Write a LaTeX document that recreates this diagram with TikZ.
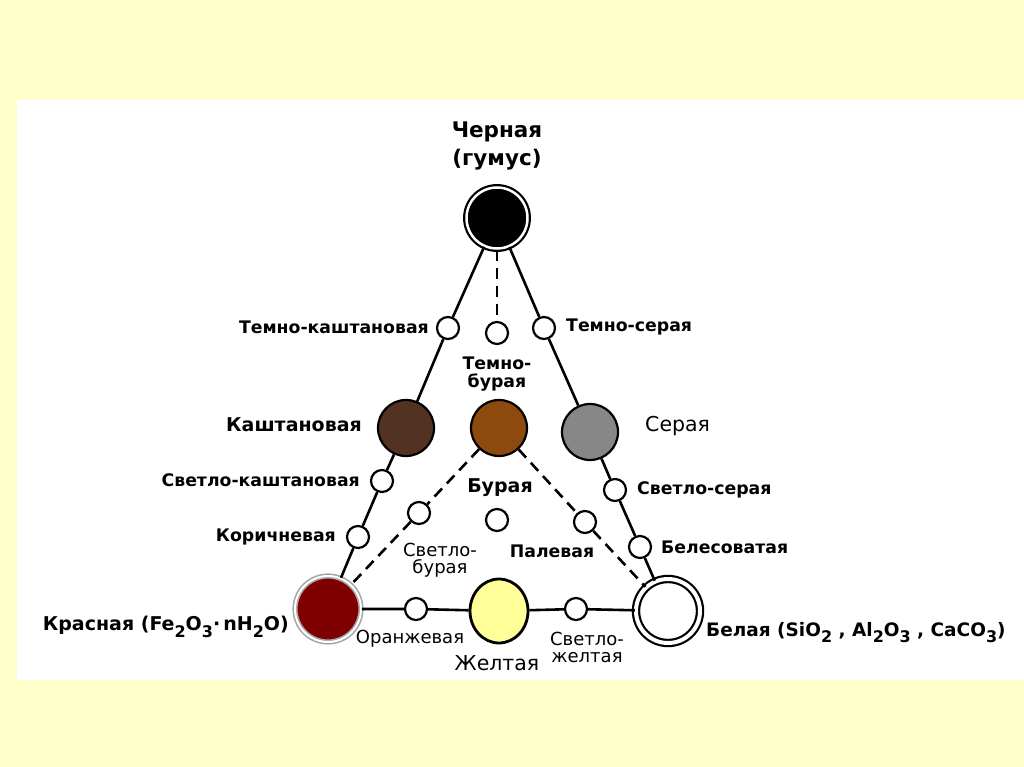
\documentclass[tikz,border=0pt]{standalone}
\usepackage{fontspec}
\usetikzlibrary{shapes.geometric}
\setmainfont{DejaVu Sans}
\definecolor{bgyellow}{HTML}{FFFFCC}
\definecolor{kastcol}{HTML}{523321}
\definecolor{burcol}{HTML}{8C4A0C}
\definecolor{sercol}{HTML}{878787}
\definecolor{redcol}{HTML}{7F0000}
\definecolor{yelcol}{HTML}{FFFF99}
\newcommand\chemsub[1]{\raisebox{-0.6ex}{\fontsize{16}{16}\selectfont #1}}
\begin{document}
\begin{tikzpicture}[x=1pt,y=-1pt,
  smallc/.style={circle,draw=black,fill=white,line width=2.2pt,minimum size=22pt,inner sep=0pt},
  bigc/.style={circle,draw=black,line width=2.2pt,minimum size=56pt,inner sep=0pt},
  conn/.style={line width=2.6pt},
  dconn/.style={line width=2.6pt,dash pattern=on 11pt off 7pt},
  lbl/.style={inner sep=0pt,font=\bfseries\fontsize{17.3}{18.5}\selectfont},
  lblr/.style={inner sep=0pt,font=\fontsize{18}{17}\selectfont},
  big/.style={inner sep=0pt,font=\bfseries\fontsize{19}{28}\selectfont},
  bigr/.style={inner sep=0pt,font=\fontsize{20.5}{24}\selectfont}]
\useasboundingbox (0,0) rectangle (1024,767);
\fill[bgyellow] (0,0) rectangle (1024,767);
\fill[white] (17,100) rectangle (1024,680);
% big circles
\node[bigc,fill=black,double=white,double distance=2.5pt,minimum size=61pt] (B) at (497,218) {};
\node[bigc,fill=kastcol] (K) at (406,428) {};
\node[bigc,fill=burcol] (TB) at (499,428) {};
\node[bigc,fill=sercol] (S) at (590,432) {};
\node[circle,draw=gray!70,fill=redcol,double=white,double distance=2pt,line width=1.6pt,minimum size=66pt,inner sep=0pt] (R) at (328,609) {};
\node[ellipse,draw=black,fill=yelcol,line width=2.8pt,minimum width=58pt,minimum height=64pt,inner sep=0pt] (Y) at (499,611) {};
\node[bigc,fill=white,double=white,double distance=4pt,minimum size=64pt] (W) at (668,611) {};
% small circles
\node[smallc] (tk) at (448,328) {};
\node[smallc] (tbs) at (497,333) {};
\node[smallc] (ts) at (544,328) {};
\node[smallc] (sk) at (382,481) {};
\node[smallc] (kor) at (358,537) {};
\node[smallc] (ss) at (615,490) {};
\node[smallc] (bel) at (640,547) {};
\node[smallc] (dl) at (419,513) {};
\node[smallc] (bur) at (497,520) {};
\node[smallc] (dr) at (585,522) {};
\node[smallc] (orn) at (416,609) {};
\node[smallc] (sy) at (576,609) {};
% connectors
\draw[conn] (B) -- (tk) -- (K) -- (sk) -- (kor) -- (R);
\draw[conn] (B) -- (ts) -- (S) -- (ss) -- (bel) -- (W);
\draw[dconn] (B) -- (tbs);
\draw[dconn] (TB) -- (dl) -- (R);
\draw[dconn] (TB) -- (dr) -- (W);
\draw[conn] (R) -- (orn) -- (Y) -- (sy) -- (W);
% labels
\node[big,align=center,font=\bfseries\fontsize{21.5}{28}\selectfont] (lB) at (497,146) {Черная\\(гумус)};
\node[lbl,anchor=east] (ltk) at (429,327) {Темно-каштановая};
\node[lbl,anchor=west] (lts) at (566,327) {Темно-серая};
\node[lbl,align=center] (ltb) at (497,374) {Темно-\\бурая};
\node[big,anchor=east] (lK) at (362,425) {Каштановая};
\node[bigr,anchor=west] (lS) at (645,426) {Серая};
\node[lbl,anchor=east] (lsk) at (360,480) {Светло-каштановая};
\node[lbl,anchor=west] (lss) at (637,490) {Светло-серая};
\node[big] (lbur) at (500,488) {Бурая};
\node[lbl,anchor=east] (lkor) at (336,537) {Коричневая};
\node[lbl,anchor=west] (lbel) at (661,547) {Белесоватая};
\node[lblr,align=center] (lsb) at (440,560) {Светло-\\бурая};
\node[lbl] (lpal) at (552,551) {Палевая};
\node[big,anchor=east] (lR) at (289,627) {Красная (Fe\chemsub{2}O\chemsub{3}·\,nH\chemsub{2}O)};
\node[lblr] (lorn) at (410,639) {Оранжевая};
\node[bigr] (lY) at (497,663) {Желтая};
\node[lblr,align=center] (lsy) at (587,647) {Светло-\\желтая};
\node[big,anchor=west,font=\bfseries\fontsize{18.5}{28}\selectfont] (lW) at (706,633) {Белая (SiO\chemsub{2} , Al\chemsub{2}O\chemsub{3} , CaCO\chemsub{3})};
\end{tikzpicture}
\end{document}
